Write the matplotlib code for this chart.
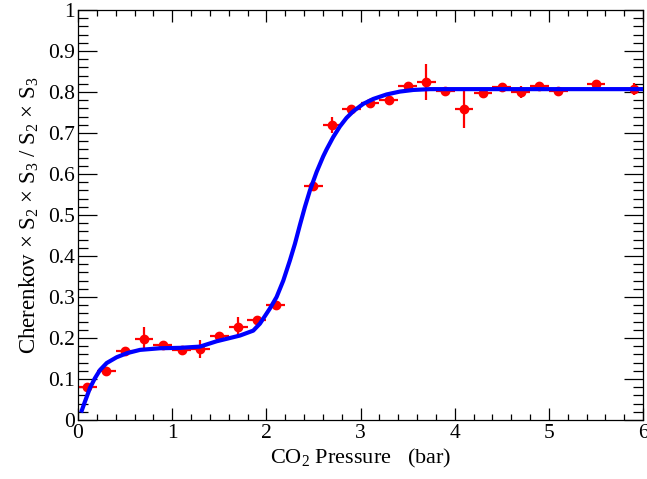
import numpy as np
import matplotlib
matplotlib.use("Agg")
import matplotlib.pyplot as plt

plt.rcParams['font.family'] = ['Liberation Serif', 'DejaVu Serif']
plt.rcParams['mathtext.default'] = 'regular'

# Measured points (pressure, ratio, errors)
pressure = [0.1, 0.3, 0.5, 0.7, 0.9, 1.1, 1.3, 1.5, 1.7, 1.9, 2.1, 2.5, 2.7, 2.9,
            3.1, 3.3, 3.5, 3.7, 3.9, 4.1, 4.3, 4.5, 4.7, 4.9, 5.1, 5.5, 5.9]
ratio = [0.080, 0.119, 0.168, 0.198, 0.183, 0.170, 0.174, 0.204, 0.227, 0.243,
         0.281, 0.570, 0.719, 0.758, 0.773, 0.780, 0.814, 0.824, 0.803, 0.758,
         0.797, 0.811, 0.800, 0.815, 0.802, 0.820, 0.807]
ratio_err = [0.008, 0.008, 0.008, 0.030, 0.008, 0.008, 0.022, 0.008, 0.024, 0.010,
             0.010, 0.010, 0.019, 0.010, 0.008, 0.008, 0.008, 0.044, 0.008, 0.046,
             0.008, 0.008, 0.015, 0.008, 0.010, 0.010, 0.015]
pressure_err = [0.1] * len(pressure)

# Fit curve
fit_x = [0.04, 0.074, 0.127, 0.18, 0.234, 0.305, 0.41, 0.52, 0.658, 0.87,
         1.083, 1.295, 1.472, 1.72, 1.861, 1.932, 2.038, 2.109, 2.18, 2.25,
         2.304, 2.357, 2.41, 2.463, 2.534, 2.604, 2.64, 2.71, 2.781, 2.852,
         2.923, 3.029, 3.135, 3.277, 3.418, 3.56, 3.737, 4.0, 5.0, 6.0]
fit_y = [0.023, 0.045, 0.078, 0.102, 0.122, 0.139, 0.153, 0.163, 0.171, 0.175,
         0.176, 0.179, 0.192, 0.206, 0.218, 0.235, 0.272, 0.30, 0.34, 0.389,
         0.43, 0.476, 0.52, 0.56, 0.605, 0.643, 0.66, 0.69, 0.716, 0.737,
         0.753, 0.771, 0.783, 0.794, 0.801, 0.805, 0.807, 0.807, 0.807, 0.807]

fig = plt.figure(figsize=(6.47, 4.79), dpi=100)
ax = fig.add_axes([78/647, 59/479, 565/647, 410/479])

ax.errorbar(pressure, ratio, yerr=ratio_err, xerr=pressure_err, fmt='o',
            color='red', ms=6, elinewidth=1.6, capsize=0, zorder=2)
ax.plot(fit_x, fit_y, color='blue', lw=3, zorder=3, solid_joinstyle='round')

ax.set_xlim(0, 6)
ax.set_ylim(0, 1)
ax.set_xticks(np.arange(0, 7, 1))
ax.set_xticks(np.arange(0, 6.01, 0.2), minor=True)
ax.set_yticks(np.arange(0, 1.01, 0.1))
ax.set_yticks(np.arange(0, 1.001, 0.02), minor=True)
ax.set_xticklabels(['0', '1', '2', '3', '4', '5', '6'])
ax.set_yticklabels(['0', '0.1', '0.2', '0.3', '0.4', '0.5', '0.6', '0.7', '0.8', '0.9', '1'])

ax.tick_params(which='both', direction='in', top=True, right=True, width=0.9,
               labelsize=15.5, colors='black')
ax.tick_params(axis='x', which='major', length=8.5, pad=3)
ax.tick_params(axis='x', which='minor', length=4.3)
ax.tick_params(axis='y', which='major', length=14, pad=2)
ax.tick_params(axis='y', which='minor', length=7)
for s in ax.spines.values():
    s.set_linewidth(0.9)

ax.set_xlabel('CO$_2$ Pressure   (bar)', fontsize=16, labelpad=3)
ax.set_ylabel('Cherenkov \u00d7 S$_2$ \u00d7 S$_3$ / S$_2$ \u00d7 S$_3$', fontsize=16.5, labelpad=5)

fig.savefig('out.png', dpi=100)
